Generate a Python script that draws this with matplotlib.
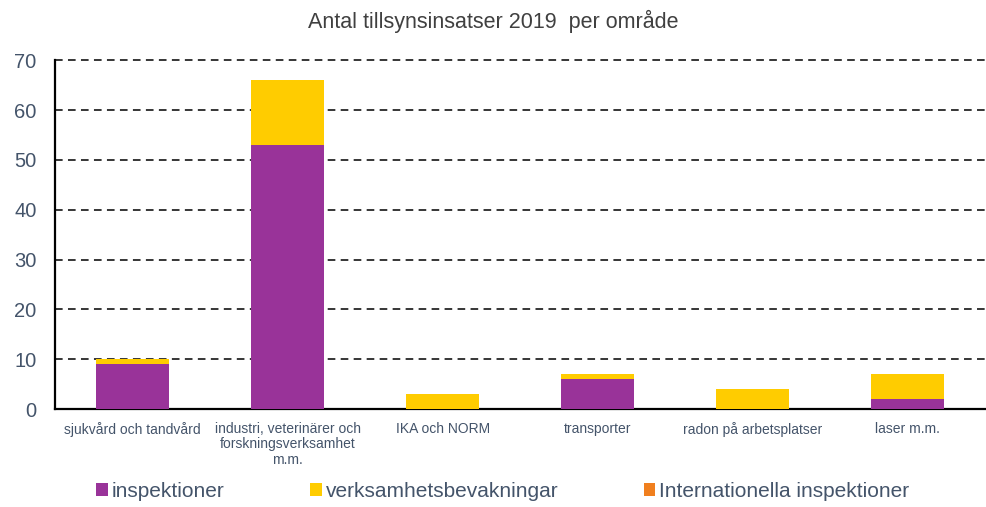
import matplotlib.pyplot as plt
import numpy as np

plt.rcParams['font.family'] = ['Liberation Sans', 'DejaVu Sans']

# ---------------- DATA ----------------
categories = [
    "sjukvård och tandvård",
    "industri, veterinärer och\nforskningsverksamhet\nm.m.",
    "IKA och NORM",
    "transporter",
    "radon på arbetsplatser",
    "laser m.m.",
]
inspektioner = [9, 53, 0, 6, 0, 2]
verksamhetsbevakningar = [1, 13, 3, 1, 4, 5]
internationella = [0, 0, 0, 0, 0, 0]

series_names = ["inspektioner", "verksamhetsbevakningar", "Internationella inspektioner"]
colors = ["#993399", "#FFCC00", "#F07F1E"]
text_color = "#44546A"

# ---------------- PLOT ----------------
fig = plt.figure(figsize=(9.86, 5.07), dpi=100)
ax = fig.add_axes([0.056, 0.193, 0.943, 0.688])

x = np.arange(len(categories))
width = 0.47
bottom = np.zeros(len(categories))
for name, vals, col in zip(series_names, [inspektioner, verksamhetsbevakningar, internationella], colors):
    ax.bar(x, vals, width, bottom=bottom, color=col, label=name, zorder=3)
    bottom += np.array(vals)

ax.set_xlim(-0.5, len(categories) - 0.5)
ax.set_ylim(0, 70)
ax.set_yticks(range(0, 71, 10))
ax.yaxis.grid(True, linestyle=(0, (5, 3.5)), color="black", linewidth=1.1, zorder=0)
ax.set_axisbelow(True)
for gl in ax.yaxis.get_gridlines():
    gl.set_clip_on(False)

ax.set_xticks(x)
ax.set_xticklabels(categories, fontsize=10, color=text_color, linespacing=1.15)
ax.tick_params(axis="x", length=0, pad=9)
ax.tick_params(axis="y", length=0, labelsize=14.5, labelcolor=text_color, pad=13.5)

for s in ["top", "right"]:
    ax.spines[s].set_visible(False)
ax.spines["left"].set_linewidth(1.6)
ax.spines["bottom"].set_linewidth(1.6)

fig.suptitle("Antal tillsynsinsatser 2019  per område", y=0.98, fontsize=15.5, color="#404040")

fig.legend(loc="lower center", bbox_to_anchor=(0.51, -0.025), ncol=3, frameon=False,
           fontsize=15, handlelength=0.55, handleheight=0.55, handletextpad=0.2,
           columnspacing=4.1, labelcolor=text_color)

plt.savefig("out.png", dpi=100)
